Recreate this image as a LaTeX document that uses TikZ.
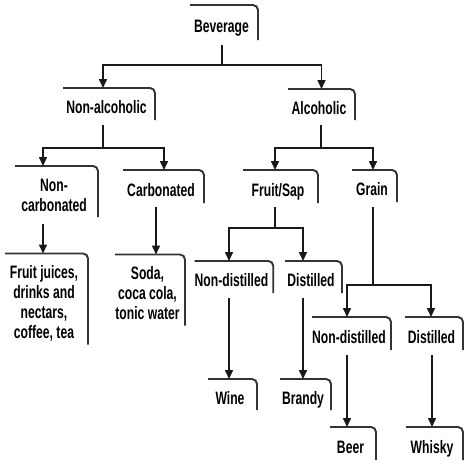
\documentclass[tikz,border=0pt]{standalone}
\usepackage{fontspec}
\setmainfont{Liberation Sans Bold}[FakeStretch=0.675]
\usetikzlibrary{arrows.meta}
\newcommand\bxtext[1]{\raisebox{0pt}[\dimexpr\height+11pt\relax][\depth]{\begin{tabular}{@{}c@{}}#1\end{tabular}}\hspace*{5pt}}
\begin{document}
\begin{tikzpicture}[x=1pt,y=-1pt,
  font=\fontsize{18pt}{20pt}\selectfont,
  bx/.style={inner sep=0pt, outer sep=0pt, rectangle},
  frame/.style={line width=1.9pt, draw=black!80, rounded corners=5pt},
  ln/.style={line width=1.6pt, draw=black!90},
  arr/.style={ln, -{Triangle[length=9pt,width=8pt]}}]
\useasboundingbox (0,0) rectangle (466,466);
% boxes
\node[bx, minimum width=68pt, minimum height=35pt] (bev) at (224,22.5) {\bxtext{Beverage}};
\node[bx, minimum width=92pt, minimum height=32pt] (nonalc) at (109,104) {\bxtext{Non-alcoholic}};
\node[bx, minimum width=67pt, minimum height=31pt] (alc) at (321.5,104.5) {\bxtext{Alcoholic}};
\node[bx, minimum width=83pt, minimum height=43pt] (noncarb) at (56.5,191.5) {\bxtext{Non-\\carbonated}};
\node[bx, minimum width=81pt, minimum height=33pt] (carb) at (163.5,186.5) {\bxtext{Carbonated}};
\node[bx, minimum width=75pt, minimum height=33pt] (fruit) at (280.5,186.5) {\bxtext{Fruit/Sap}};
\node[bx, minimum width=45pt, minimum height=32pt] (grain) at (374.5,186) {\bxtext{Grain}};
\node[bx, minimum width=83pt, minimum height=88pt] (juices) at (46.5,299) {\bxtext{Fruit juices,\\drinks and\\nectars,\\coffee, tea}};
\node[bx, minimum width=70pt, minimum height=70pt] (soda) at (150,290) {\bxtext{Soda,\\coca cola,\\tonic water}};
\node[bx, minimum width=78pt, minimum height=32pt] (fnd) at (234,277) {\bxtext{Non-distilled}};
\node[bx, minimum width=57pt, minimum height=32pt] (fd) at (313.5,277) {\bxtext{Distilled}};
\node[bx, minimum width=49pt, minimum height=31pt] (wine) at (232.5,394.5) {\bxtext{Wine}};
\node[bx, minimum width=51pt, minimum height=31pt] (brandy) at (305.5,394.5) {\bxtext{Brandy}};
\node[bx, minimum width=79pt, minimum height=33pt] (gnd) at (351.5,333.5) {\bxtext{Non-distilled}};
\node[bx, minimum width=58pt, minimum height=33pt] (gd) at (434,333.5) {\bxtext{Distilled}};
\node[bx, minimum width=46pt, minimum height=33pt] (beer) at (353,443.5) {\bxtext{Beer}};
\node[bx, minimum width=57pt, minimum height=33pt] (whisky) at (434.5,443.5) {\bxtext{Whisky}};
\foreach \n in {bev,nonalc,alc,noncarb,carb,fruit,grain,juices,soda,fnd,fd,wine,brandy,gnd,gd,beer,whisky}
  \draw[frame] (\n.north west) -- (\n.north east) -- (\n.south east);
% connectors
\draw[ln] ([shift={(-2,5)}]bev.south) -- ++(0,20) coordinate (jb);
\draw[arr] (jb) -| ([xshift=-6pt]nonalc.north);
\draw[arr] (jb) -| (alc.north);
\draw[ln] ([shift={(-6,5)}]nonalc.south) -- ++(0,23) coordinate (jn);
\draw[arr] (jn) -| ([xshift=-13.5pt]noncarb.north);
\draw[arr] (jn) -| ([xshift=0.5pt]carb.north);
\draw[ln] ([shift={(-0.5,5)}]alc.south) -- ++(0,23) coordinate (ja);
\draw[arr] (ja) -| ([xshift=-5.5pt]fruit.north);
\draw[arr] (ja) -| ([xshift=-1.5pt]grain.north);
\draw[arr] ([shift={(-13.5,7)}]noncarb.south) -- ([xshift=-3.5pt]juices.north);
\draw[arr] ([shift={(-7.5,4)}]carb.south) -- ([xshift=6pt]soda.north);
\draw[ln] ([shift={(-5.5,4)}]fruit.south) -- ++(0,21) coordinate (jf);
\draw[arr] (jf) -| ([xshift=-5pt]fnd.north);
\draw[arr] (jf) -| ([xshift=-10.5pt]fd.north);
\draw[ln] ([shift={(-1.5,5)}]grain.south) -- ++(0,78) coordinate (jg);
\draw[arr] (jg) -| ([xshift=-4.5pt]gnd.north);
\draw[arr] (jg) -| ([xshift=-3pt]gd.north);
\draw[arr] ([shift={(-5,5)}]fnd.south) -- ([xshift=-3.5pt]wine.north);
\draw[arr] ([shift={(-10.5,5)}]fd.south) -- ([xshift=-2.5pt]brandy.north);
\draw[arr] ([shift={(-4.5,5)}]gnd.south) -- ([xshift=-6pt]beer.north);
\draw[arr] ([shift={(-2,5)}]gd.south) -- ([xshift=-2.5pt]whisky.north);
\end{tikzpicture}
\end{document}
